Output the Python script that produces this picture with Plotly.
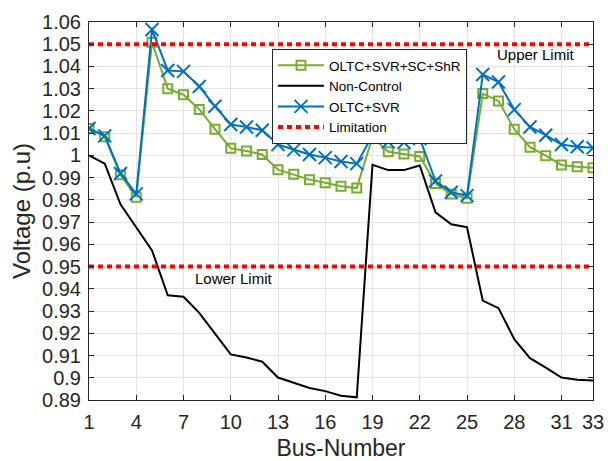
import plotly.graph_objects as go

bus = list(range(1, 34))

v_full = [1.0121, 1.0084, 0.9913, 0.9812, 1.0509, 1.0300, 1.0273, 1.0207, 1.0118, 1.0032,
          1.0020, 1.0004, 0.9936, 0.9915, 0.9891, 0.9877, 0.9861, 0.9853, 1.0083, 1.0016,
          1.0006, 0.9995, 0.9874, 0.9826, 0.9807, 1.0278, 1.0245, 1.0118, 1.0037, 0.9999,
          0.9957, 0.9949, 0.9945]

v_none = [1.0000, 0.9963, 0.9780, 0.9675, 0.9573, 0.9371, 0.9364, 0.9292, 0.9199, 0.9105,
          0.9091, 0.9072, 0.9001, 0.8978, 0.8954, 0.8940, 0.8919, 0.8912, 0.9958, 0.9934,
          0.9934, 0.9955, 0.9744, 0.9690, 0.9677, 0.9347, 0.9313, 0.9174, 0.9088, 0.9046,
          0.9001, 0.8991, 0.8988]

v_oltc = [1.0121, 1.0088, 0.9919, 0.9827, 1.0566, 1.0382, 1.0378, 1.0310, 1.0221, 1.0139,
          1.0128, 1.0113, 1.0049, 1.0025, 1.0004, 0.9990, 0.9973, 0.9963, 1.0091, 1.0061,
          1.0058, 1.0076, 0.9885, 0.9834, 0.9819, 1.0364, 1.0330, 1.0206, 1.0128, 1.0091,
          1.0049, 1.0039, 1.0034]

upper_limit = 1.05
lower_limit = 0.95

x_ticks = [1, 4, 7, 10, 13, 16, 19, 22, 25, 28, 31, 33]
y_ticks = [0.89, 0.90, 0.91, 0.92, 0.93, 0.94, 0.95, 0.96, 0.97, 0.98, 0.99, 1.00,
           1.01, 1.02, 1.03, 1.04, 1.05, 1.06]
y_labels = ["0.89", "0.9", "0.91", "0.92", "0.93", "0.94", "0.95", "0.96", "0.97", "0.98",
            "0.99", "1", "1.01", "1.02", "1.03", "1.04", "1.05", "1.06"]

FONT = "Liberation Sans, Arial, Helvetica, sans-serif"
GREEN = "#77AC30"
BLUE = "#0072BD"
AX = "#262626"

fig = go.Figure()

fig.add_trace(go.Scatter(
    x=bus, y=v_full, name="OLTC+SVR+SC+ShR", mode="lines+markers",
    line=dict(color=GREEN, width=2),
    marker=dict(symbol="square-open", size=9, color=GREEN, line=dict(width=2, color=GREEN)),
))
fig.add_trace(go.Scatter(
    x=bus, y=v_none, name="Non-Control", mode="lines",
    line=dict(color="black", width=2),
))
fig.add_trace(go.Scatter(
    x=bus, y=v_oltc, name="OLTC+SVR", mode="lines+markers",
    line=dict(color=BLUE, width=2),
    marker=dict(symbol="x-thin-open", size=13, color=BLUE, line=dict(width=2, color=BLUE)),
))
fig.add_trace(go.Scatter(
    x=[bus[0], bus[-1], None, bus[0], bus[-1]],
    y=[upper_limit, upper_limit, None, lower_limit, lower_limit],
    name="Limitation", mode="lines",
    line=dict(color="red", width=4, dash="5px,4px"),
))

fig.add_annotation(x=29.4, y=1.0452, text="Upper Limit", showarrow=False,
                   font=dict(family=FONT, size=15, color="black"))
fig.add_annotation(x=10.2, y=0.9445, text="Lower Limit", showarrow=False,
                   font=dict(family=FONT, size=15, color="black"))

fig.update_layout(
    width=608, height=461,
    margin=dict(l=89, r=15, t=22, b=61),
    paper_bgcolor="white", plot_bgcolor="white",
    font=dict(family=FONT, color=AX),
    showlegend=True,
    legend=dict(
        x=(272 - 89) / 504, y=(400 - 49) / 378, xanchor="left", yanchor="top",
        bgcolor="white", bordercolor=AX, borderwidth=1,
        font=dict(family=FONT, size=13.5, color="black"),
        itemwidth=46, tracegroupgap=0,
    ),
    xaxis=dict(
        range=[1, 33], tickmode="array", tickvals=x_ticks,
        ticktext=[str(t) for t in x_ticks],
        showgrid=True, gridcolor="#e3e3e3", gridwidth=1,
        showline=True, linecolor=AX, linewidth=1, mirror="ticks",
        ticks="inside", ticklen=5, tickcolor=AX,
        ticklabelstandoff=4, automargin=False,
        tickfont=dict(family=FONT, size=20, color=AX),
        title=dict(text="Bus-Number", font=dict(family=FONT, size=23, color=AX), standoff=12),
        zeroline=False,
    ),
    yaxis=dict(
        range=[0.89, 1.06], tickmode="array", tickvals=y_ticks, ticktext=y_labels,
        showgrid=True, gridcolor="#e3e3e3", gridwidth=1,
        showline=True, linecolor=AX, linewidth=1, mirror="ticks",
        ticks="inside", ticklen=5, tickcolor=AX,
        ticklabelstandoff=3, automargin=False,
        tickfont=dict(family=FONT, size=20, color=AX),
        title=dict(text="Voltage (p.u)", font=dict(family=FONT, size=24, color=AX), standoff=4),
        zeroline=False,
    ),
)

fig.write_html("out.html")
